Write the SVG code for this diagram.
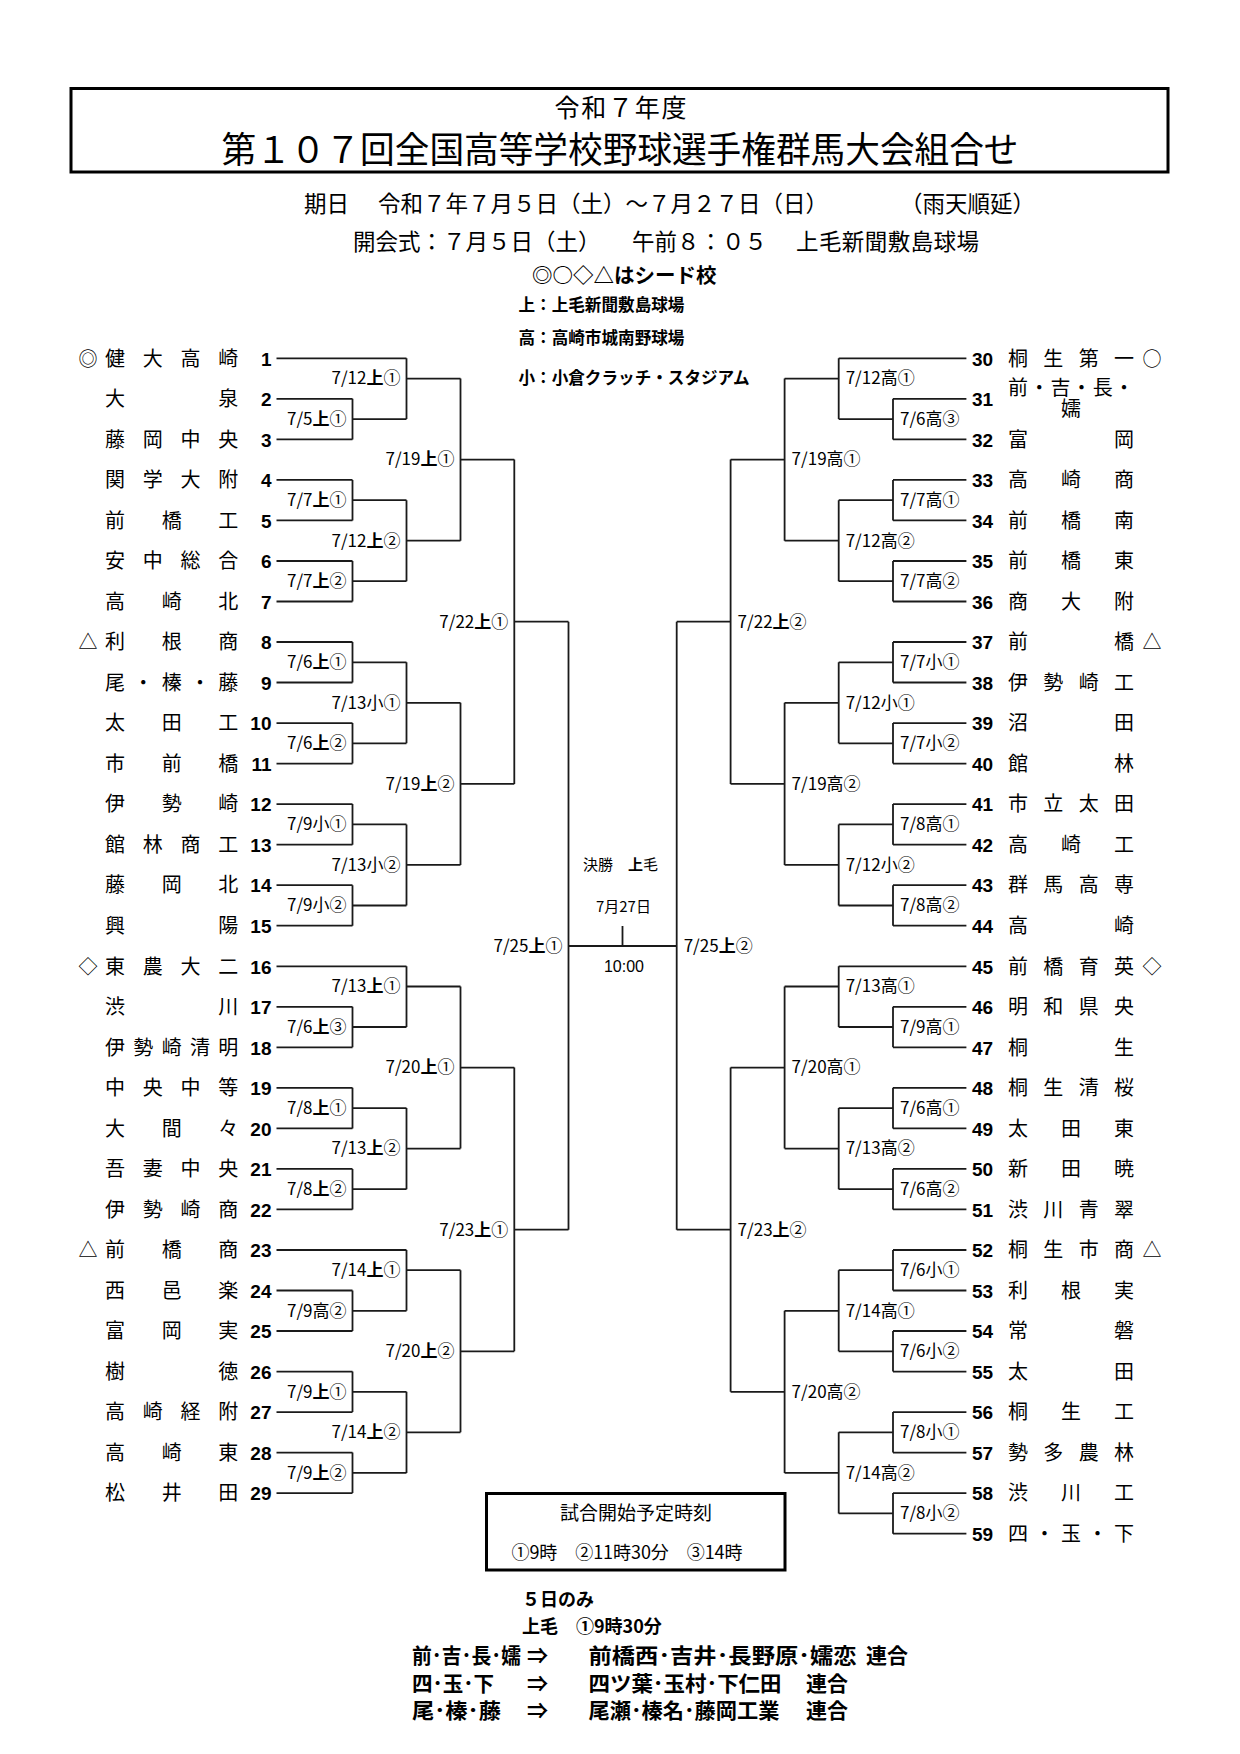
<svg xmlns="http://www.w3.org/2000/svg" width="1240" height="1754" viewBox="0 0 1240 1754">
<style>
text{font-family:"Noto Sans CJK JP","Noto Sans CJK SC",sans-serif;fill:#000}
.ln{fill:none;stroke:#1a1a1a;stroke-width:1.8}
.nm{font-size:20px;text-anchor:middle}
.nL{font-family:"Liberation Sans",Arial,sans-serif;font-weight:bold;font-size:19px;text-anchor:end}
.nR{font-family:"Liberation Sans",Arial,sans-serif;font-weight:bold;font-size:19px}
.sd{font-size:19px;text-anchor:middle}
.lb{font-size:17px}
.lbL{font-size:17px;text-anchor:end}
.b{font-weight:bold}
.hd{font-size:22.5px}
.bd{font-weight:bold}
</style>
<rect width="1240" height="1754" fill="#fff"/>
<g id="header">
<rect x="71" y="88.5" width="1097" height="83.5" fill="none" stroke="#000" stroke-width="3"/>
<text x="620.5" y="117" font-size="25" text-anchor="middle" textLength="132" lengthAdjust="spacing">令和７年度</text>
<text x="620" y="163" font-size="36" text-anchor="middle" textLength="797" lengthAdjust="spacingAndGlyphs">第１０７回全国高等学校野球選手権群馬大会組合せ</text>
<text class="hd" x="304" y="212">期日</text>
<text class="hd" x="378" y="212" textLength="450" lengthAdjust="spacing">令和７年７月５日（土）～７月２７日（日）</text>
<text class="hd" x="900" y="212">（雨天順延）</text>
<text class="hd" x="353" y="249.5">開会式：７月５日（土）</text>
<text class="hd" x="632" y="249.5">午前８：０５</text>
<text class="hd" x="796" y="249.5" textLength="183" lengthAdjust="spacing">上毛新聞敷島球場</text>
<text class="bd" x="532" y="283" font-size="20.5">◎○◇△はシード校</text>
<text class="bd" x="518.5" y="311" font-size="16.6">上：上毛新聞敷島球場</text>
<text class="bd" x="518.5" y="344.3" font-size="16.6">高：高崎市城南野球場</text>
<text class="bd" x="518.5" y="384.3" font-size="16.6">小：小倉クラッチ・スタジアム</text>
</g>
<g id="connectors" class="ln">
<path d="M276.5 358.3H406.5M276.5 398.8H352.5M276.5 439.4H352.5M276.5 479.9H352.5M276.5 520.4H352.5M276.5 561H352.5M276.5 601.5H352.5M276.5 642H352.5M276.5 682.5H352.5M276.5 723.1H352.5M276.5 763.6H352.5M276.5 804.1H352.5M276.5 844.7H352.5M276.5 885.2H352.5M276.5 925.7H352.5M276.5 966.3H406.5M276.5 1006.8H352.5M276.5 1047.3H352.5M276.5 1087.8H352.5M276.5 1128.4H352.5M276.5 1168.9H352.5M276.5 1209.4H352.5M276.5 1250H406.5M276.5 1290.5H352.5M276.5 1331H352.5M276.5 1371.6H352.5M276.5 1412.1H352.5M276.5 1452.6H352.5M276.5 1493.1H352.5"/>
<path d="M966.4 358.3H838.7M966.4 398.8H893M966.4 439.4H893M966.4 479.9H893M966.4 520.4H893M966.4 561H893M966.4 601.5H893M966.4 642H893M966.4 682.5H893M966.4 723.1H893M966.4 763.6H893M966.4 804.1H893M966.4 844.7H893M966.4 885.2H893M966.4 925.7H893M966.4 966.3H838.7M966.4 1006.8H893M966.4 1047.3H893M966.4 1087.8H893M966.4 1128.4H893M966.4 1168.9H893M966.4 1209.4H893M966.4 1250H893M966.4 1290.5H893M966.4 1331H893M966.4 1371.6H893M966.4 1412.1H893M966.4 1452.6H893M966.4 1493.1H893M966.4 1533.7H893"/>
<path d="M352.5 398.8V439.4M352.5 419.1H406.5M352.5 479.9V520.4M352.5 500.2H406.5M352.5 561V601.5M352.5 581.2H406.5M352.5 642V682.5M352.5 662.3H406.5M352.5 723.1V763.6M352.5 743.3H406.5M352.5 804.1V844.7M352.5 824.4H406.5M352.5 885.2V925.7M352.5 905.5H406.5M352.5 1006.8V1047.3M352.5 1027H406.5M352.5 1087.8V1128.4M352.5 1108.1H406.5M352.5 1168.9V1209.4M352.5 1189.2H406.5M352.5 1290.5V1331M352.5 1310.8H406.5M352.5 1371.6V1412.1M352.5 1391.8H406.5M352.5 1452.6V1493.1M352.5 1472.9H406.5"/>
<path d="M406.5 358.3V419.1M406.5 378.6H460.5M406.5 500.2V581.2M406.5 540.7H460.5M406.5 662.3V743.3M406.5 702.8H460.5M406.5 824.4V905.5M406.5 864.9H460.5M406.5 966.3V1027M406.5 986.5H460.5M406.5 1108.1V1189.2M406.5 1148.6H460.5M406.5 1250V1310.8M406.5 1270.2H460.5M406.5 1391.8V1472.9M406.5 1432.3H460.5"/>
<path d="M460.5 378.6V540.7M460.5 459.6H514.3M460.5 702.8V864.9M460.5 783.9H514.3M460.5 986.5V1148.6M460.5 1067.6H514.3M460.5 1270.2V1432.3M460.5 1351.3H514.3"/>
<path d="M514.3 459.6V783.9M514.3 621.7H568.5M514.3 1067.6V1351.3M514.3 1229.7H568.5"/>
<path d="M568.5 621.7V1229.7M568.5 946H676.7M622.5 926V946"/>
<path d="M893 398.8V439.4M893 419.1H838.7M893 479.9V520.4M893 500.2H838.7M893 561V601.5M893 581.2H838.7M893 642V682.5M893 662.3H838.7M893 723.1V763.6M893 743.3H838.7M893 804.1V844.7M893 824.4H838.7M893 885.2V925.7M893 905.5H838.7M893 1006.8V1047.3M893 1027H838.7M893 1087.8V1128.4M893 1108.1H838.7M893 1168.9V1209.4M893 1189.2H838.7M893 1250V1290.5M893 1270.2H838.7M893 1331V1371.6M893 1351.3H838.7M893 1412.1V1452.6M893 1432.3H838.7M893 1493.1V1533.7M893 1513.4H838.7"/>
<path d="M838.7 358.3V419.1M838.7 378.6H784.6M838.7 500.2V581.2M838.7 540.7H784.6M838.7 662.3V743.3M838.7 702.8H784.6M838.7 824.4V905.5M838.7 864.9H784.6M838.7 966.3V1027M838.7 986.5H784.6M838.7 1108.1V1189.2M838.7 1148.6H784.6M838.7 1270.2V1351.3M838.7 1310.8H784.6M838.7 1432.3V1513.4M838.7 1472.9H784.6"/>
<path d="M784.6 378.6V540.7M784.6 459.6H730.6M784.6 702.8V864.9M784.6 783.9H730.6M784.6 986.5V1148.6M784.6 1067.6H730.6M784.6 1310.8V1472.9M784.6 1391.8H730.6"/>
<path d="M730.6 459.6V783.9M730.6 621.7H676.7M730.6 1067.6V1391.8M730.6 1229.7H676.7"/>
<path d="M676.7 621.7V1229.7"/>
</g>
<g id="match-labels">
<text class="lbL" x="346.5" y="425">7/5<tspan class="b">上</tspan>①</text>
<text class="lbL" x="346.5" y="506">7/7<tspan class="b">上</tspan>①</text>
<text class="lbL" x="346.5" y="587">7/7<tspan class="b">上</tspan>②</text>
<text class="lbL" x="346.5" y="668.1">7/6<tspan class="b">上</tspan>①</text>
<text class="lbL" x="346.5" y="749.1">7/6<tspan class="b">上</tspan>②</text>
<text class="lbL" x="346.5" y="830.2">7/9小①</text>
<text class="lbL" x="346.5" y="911.3">7/9小②</text>
<text class="lbL" x="346.5" y="1032.8">7/6<tspan class="b">上</tspan>③</text>
<text class="lbL" x="346.5" y="1113.9">7/8<tspan class="b">上</tspan>①</text>
<text class="lbL" x="346.5" y="1195">7/8<tspan class="b">上</tspan>②</text>
<text class="lbL" x="346.5" y="1316.6">7/9高②</text>
<text class="lbL" x="346.5" y="1397.6">7/9<tspan class="b">上</tspan>①</text>
<text class="lbL" x="346.5" y="1478.7">7/9<tspan class="b">上</tspan>②</text>
<text class="lbL" x="400.5" y="384.4">7/12<tspan class="b">上</tspan>①</text>
<text class="lbL" x="400.5" y="546.5">7/12<tspan class="b">上</tspan>②</text>
<text class="lbL" x="400.5" y="708.6">7/13小①</text>
<text class="lbL" x="400.5" y="870.7">7/13小②</text>
<text class="lbL" x="400.5" y="992.3">7/13<tspan class="b">上</tspan>①</text>
<text class="lbL" x="400.5" y="1154.4">7/13<tspan class="b">上</tspan>②</text>
<text class="lbL" x="400.5" y="1276">7/14<tspan class="b">上</tspan>①</text>
<text class="lbL" x="400.5" y="1438.1">7/14<tspan class="b">上</tspan>②</text>
<text class="lbL" x="454.5" y="465.4">7/19<tspan class="b">上</tspan>①</text>
<text class="lbL" x="454.5" y="789.7">7/19<tspan class="b">上</tspan>②</text>
<text class="lbL" x="454.5" y="1073.4">7/20<tspan class="b">上</tspan>①</text>
<text class="lbL" x="454.5" y="1357.1">7/20<tspan class="b">上</tspan>②</text>
<text class="lbL" x="508.3" y="627.5">7/22<tspan class="b">上</tspan>①</text>
<text class="lbL" x="508.3" y="1235.5">7/23<tspan class="b">上</tspan>①</text>
<text class="lbL" x="562.5" y="951.8">7/25<tspan class="b">上</tspan>①</text>
<text class="lb" x="900" y="425">7/6高③</text>
<text class="lb" x="900" y="506">7/7高①</text>
<text class="lb" x="900" y="587">7/7高②</text>
<text class="lb" x="900" y="668.1">7/7小①</text>
<text class="lb" x="900" y="749.1">7/7小②</text>
<text class="lb" x="900" y="830.2">7/8高①</text>
<text class="lb" x="900" y="911.3">7/8高②</text>
<text class="lb" x="900" y="1032.8">7/9高①</text>
<text class="lb" x="900" y="1113.9">7/6高①</text>
<text class="lb" x="900" y="1195">7/6高②</text>
<text class="lb" x="900" y="1276">7/6小①</text>
<text class="lb" x="900" y="1357.1">7/6小②</text>
<text class="lb" x="900" y="1438.1">7/8小①</text>
<text class="lb" x="900" y="1519.2">7/8小②</text>
<text class="lb" x="845.7" y="384.4">7/12高①</text>
<text class="lb" x="845.7" y="546.5">7/12高②</text>
<text class="lb" x="845.7" y="708.6">7/12小①</text>
<text class="lb" x="845.7" y="870.7">7/12小②</text>
<text class="lb" x="845.7" y="992.3">7/13高①</text>
<text class="lb" x="845.7" y="1154.4">7/13高②</text>
<text class="lb" x="845.7" y="1316.6">7/14高①</text>
<text class="lb" x="845.7" y="1478.7">7/14高②</text>
<text class="lb" x="791.6" y="465.4">7/19高①</text>
<text class="lb" x="791.6" y="789.7">7/19高②</text>
<text class="lb" x="791.6" y="1073.4">7/20高①</text>
<text class="lb" x="791.6" y="1397.6">7/20高②</text>
<text class="lb" x="737.6" y="627.5">7/22<tspan class="b">上</tspan>②</text>
<text class="lb" x="737.6" y="1235.5">7/23<tspan class="b">上</tspan>②</text>
<text class="lb" x="683.7" y="951.8">7/25<tspan class="b">上</tspan>②</text>
</g>
<g id="final">
<text x="583" y="869.5" font-size="15">決勝　<tspan class="b">上</tspan>毛</text>
<text x="623.4" y="912" font-size="15" text-anchor="middle">7月27日</text>
<text x="624" y="972" font-size="16" text-anchor="middle" style="font-family:'Liberation Sans',Arial,sans-serif">10:00</text>
</g>
<g id="teams-left">
<g id="t1"><text class="sd" x="88" y="365.5">◎</text><text class="nm" x="115 152.8 190.5 228.3" y="365.5">健大高崎</text><text class="nL" x="271.5" y="365.5">1</text></g>
<g id="t2"><text class="nm" x="115 228.3" y="406">大泉</text><text class="nL" x="271.5" y="406">2</text></g>
<g id="t3"><text class="nm" x="115 152.8 190.5 228.3" y="446.6">藤岡中央</text><text class="nL" x="271.5" y="446.6">3</text></g>
<g id="t4"><text class="nm" x="115 152.8 190.5 228.3" y="487.1">関学大附</text><text class="nL" x="271.5" y="487.1">4</text></g>
<g id="t5"><text class="nm" x="115 171.7 228.3" y="527.6">前橋工</text><text class="nL" x="271.5" y="527.6">5</text></g>
<g id="t6"><text class="nm" x="115 152.8 190.5 228.3" y="568.2">安中総合</text><text class="nL" x="271.5" y="568.2">6</text></g>
<g id="t7"><text class="nm" x="115 171.7 228.3" y="608.7">高崎北</text><text class="nL" x="271.5" y="608.7">7</text></g>
<g id="t8"><text class="sd" x="88" y="649.2">△</text><text class="nm" x="115 171.7 228.3" y="649.2">利根商</text><text class="nL" x="271.5" y="649.2">8</text></g>
<g id="t9"><text class="nm" x="115 143.3 171.7 200 228.3" y="689.7">尾・榛・藤</text><text class="nL" x="271.5" y="689.7">9</text></g>
<g id="t10"><text class="nm" x="115 171.7 228.3" y="730.3">太田工</text><text class="nL" x="271.5" y="730.3">10</text></g>
<g id="t11"><text class="nm" x="115 171.7 228.3" y="770.8">市前橋</text><text class="nL" x="271.5" y="770.8">11</text></g>
<g id="t12"><text class="nm" x="115 171.7 228.3" y="811.3">伊勢崎</text><text class="nL" x="271.5" y="811.3">12</text></g>
<g id="t13"><text class="nm" x="115 152.8 190.5 228.3" y="851.9">館林商工</text><text class="nL" x="271.5" y="851.9">13</text></g>
<g id="t14"><text class="nm" x="115 171.7 228.3" y="892.4">藤岡北</text><text class="nL" x="271.5" y="892.4">14</text></g>
<g id="t15"><text class="nm" x="115 228.3" y="932.9">興陽</text><text class="nL" x="271.5" y="932.9">15</text></g>
<g id="t16"><text class="sd" x="88" y="973.5">◇</text><text class="nm" x="115 152.8 190.5 228.3" y="973.5">東農大二</text><text class="nL" x="271.5" y="973.5">16</text></g>
<g id="t17"><text class="nm" x="115 228.3" y="1014">渋川</text><text class="nL" x="271.5" y="1014">17</text></g>
<g id="t18"><text class="nm" x="115 143.3 171.7 200 228.3" y="1054.5">伊勢崎清明</text><text class="nL" x="271.5" y="1054.5">18</text></g>
<g id="t19"><text class="nm" x="115 152.8 190.5 228.3" y="1095">中央中等</text><text class="nL" x="271.5" y="1095">19</text></g>
<g id="t20"><text class="nm" x="115 171.7 228.3" y="1135.6">大間々</text><text class="nL" x="271.5" y="1135.6">20</text></g>
<g id="t21"><text class="nm" x="115 152.8 190.5 228.3" y="1176.1">吾妻中央</text><text class="nL" x="271.5" y="1176.1">21</text></g>
<g id="t22"><text class="nm" x="115 152.8 190.5 228.3" y="1216.6">伊勢崎商</text><text class="nL" x="271.5" y="1216.6">22</text></g>
<g id="t23"><text class="sd" x="88" y="1257.2">△</text><text class="nm" x="115 171.7 228.3" y="1257.2">前橋商</text><text class="nL" x="271.5" y="1257.2">23</text></g>
<g id="t24"><text class="nm" x="115 171.7 228.3" y="1297.7">西邑楽</text><text class="nL" x="271.5" y="1297.7">24</text></g>
<g id="t25"><text class="nm" x="115 171.7 228.3" y="1338.2">富岡実</text><text class="nL" x="271.5" y="1338.2">25</text></g>
<g id="t26"><text class="nm" x="115 228.3" y="1378.8">樹徳</text><text class="nL" x="271.5" y="1378.8">26</text></g>
<g id="t27"><text class="nm" x="115 152.8 190.5 228.3" y="1419.3">高崎経附</text><text class="nL" x="271.5" y="1419.3">27</text></g>
<g id="t28"><text class="nm" x="115 171.7 228.3" y="1459.8">高崎東</text><text class="nL" x="271.5" y="1459.8">28</text></g>
<g id="t29"><text class="nm" x="115 171.7 228.3" y="1500.3">松井田</text><text class="nL" x="271.5" y="1500.3">29</text></g>
</g>
<g id="teams-right">
<g id="t30"><text class="nR" x="972" y="365.5">30</text><text class="nm" x="1018 1053.3 1088.7 1124" y="365.5">桐生第一</text><text class="sd" x="1152" y="365.5">○</text></g>
<g id="t31"><text class="nR" x="972" y="406">31</text><text class="nm" x="1018 1039.2 1060.4 1081.6 1102.8 1124" y="394.5" font-size="16">前・吉・長・</text><text class="nm" x="1071" y="415.5" font-size="16">嬬</text></g>
<g id="t32"><text class="nR" x="972" y="446.6">32</text><text class="nm" x="1018 1124" y="446.6">富岡</text></g>
<g id="t33"><text class="nR" x="972" y="487.1">33</text><text class="nm" x="1018 1071 1124" y="487.1">高崎商</text></g>
<g id="t34"><text class="nR" x="972" y="527.6">34</text><text class="nm" x="1018 1071 1124" y="527.6">前橋南</text></g>
<g id="t35"><text class="nR" x="972" y="568.2">35</text><text class="nm" x="1018 1071 1124" y="568.2">前橋東</text></g>
<g id="t36"><text class="nR" x="972" y="608.7">36</text><text class="nm" x="1018 1071 1124" y="608.7">商大附</text></g>
<g id="t37"><text class="nR" x="972" y="649.2">37</text><text class="nm" x="1018 1124" y="649.2">前橋</text><text class="sd" x="1152" y="649.2">△</text></g>
<g id="t38"><text class="nR" x="972" y="689.7">38</text><text class="nm" x="1018 1053.3 1088.7 1124" y="689.7">伊勢崎工</text></g>
<g id="t39"><text class="nR" x="972" y="730.3">39</text><text class="nm" x="1018 1124" y="730.3">沼田</text></g>
<g id="t40"><text class="nR" x="972" y="770.8">40</text><text class="nm" x="1018 1124" y="770.8">館林</text></g>
<g id="t41"><text class="nR" x="972" y="811.3">41</text><text class="nm" x="1018 1053.3 1088.7 1124" y="811.3">市立太田</text></g>
<g id="t42"><text class="nR" x="972" y="851.9">42</text><text class="nm" x="1018 1071 1124" y="851.9">高崎工</text></g>
<g id="t43"><text class="nR" x="972" y="892.4">43</text><text class="nm" x="1018 1053.3 1088.7 1124" y="892.4">群馬高専</text></g>
<g id="t44"><text class="nR" x="972" y="932.9">44</text><text class="nm" x="1018 1124" y="932.9">高崎</text></g>
<g id="t45"><text class="nR" x="972" y="973.5">45</text><text class="nm" x="1018 1053.3 1088.7 1124" y="973.5">前橋育英</text><text class="sd" x="1152" y="973.5">◇</text></g>
<g id="t46"><text class="nR" x="972" y="1014">46</text><text class="nm" x="1018 1053.3 1088.7 1124" y="1014">明和県央</text></g>
<g id="t47"><text class="nR" x="972" y="1054.5">47</text><text class="nm" x="1018 1124" y="1054.5">桐生</text></g>
<g id="t48"><text class="nR" x="972" y="1095">48</text><text class="nm" x="1018 1053.3 1088.7 1124" y="1095">桐生清桜</text></g>
<g id="t49"><text class="nR" x="972" y="1135.6">49</text><text class="nm" x="1018 1071 1124" y="1135.6">太田東</text></g>
<g id="t50"><text class="nR" x="972" y="1176.1">50</text><text class="nm" x="1018 1071 1124" y="1176.1">新田暁</text></g>
<g id="t51"><text class="nR" x="972" y="1216.6">51</text><text class="nm" x="1018 1053.3 1088.7 1124" y="1216.6">渋川青翠</text></g>
<g id="t52"><text class="nR" x="972" y="1257.2">52</text><text class="nm" x="1018 1053.3 1088.7 1124" y="1257.2">桐生市商</text><text class="sd" x="1152" y="1257.2">△</text></g>
<g id="t53"><text class="nR" x="972" y="1297.7">53</text><text class="nm" x="1018 1071 1124" y="1297.7">利根実</text></g>
<g id="t54"><text class="nR" x="972" y="1338.2">54</text><text class="nm" x="1018 1124" y="1338.2">常磐</text></g>
<g id="t55"><text class="nR" x="972" y="1378.8">55</text><text class="nm" x="1018 1124" y="1378.8">太田</text></g>
<g id="t56"><text class="nR" x="972" y="1419.3">56</text><text class="nm" x="1018 1071 1124" y="1419.3">桐生工</text></g>
<g id="t57"><text class="nR" x="972" y="1459.8">57</text><text class="nm" x="1018 1053.3 1088.7 1124" y="1459.8">勢多農林</text></g>
<g id="t58"><text class="nR" x="972" y="1500.3">58</text><text class="nm" x="1018 1071 1124" y="1500.3">渋川工</text></g>
<g id="t59"><text class="nR" x="972" y="1540.9">59</text><text class="nm" x="1018 1044.5 1071 1097.5 1124" y="1540.9">四・玉・下</text></g>
</g>
<g id="time-box">
<rect x="486.5" y="1493.5" width="298.5" height="76.5" fill="none" stroke="#000" stroke-width="3"/>
<text x="636" y="1520" font-size="19" text-anchor="middle">試合開始予定時刻</text>
<text x="627" y="1559" font-size="18" text-anchor="middle" textLength="231" lengthAdjust="spacing">①9時　②11時30分　③14時</text>
</g>
<g id="notes" class="bd">
<text x="522" y="1606" font-size="18">５日のみ</text>
<text x="522" y="1632.5" font-size="18">上毛　①9時30分</text>
<text x="412" y="1662.5" font-size="21" textLength="109" lengthAdjust="spacingAndGlyphs">前･吉･長･嬬</text>
<text x="527" y="1662.5" font-size="21">⇒</text>
<text x="588.5" y="1662.5" font-size="21" textLength="268" lengthAdjust="spacingAndGlyphs">前橋西･吉井･長野原･嬬恋</text>
<text x="866" y="1662.5" font-size="21">連合</text>
<text x="412" y="1691" font-size="21" textLength="82" lengthAdjust="spacingAndGlyphs">四･玉･下</text>
<text x="527" y="1691" font-size="21">⇒</text>
<text x="588.5" y="1691" font-size="21" textLength="193" lengthAdjust="spacingAndGlyphs">四ツ葉･玉村･下仁田</text>
<text x="806" y="1691" font-size="21">連合</text>
<text x="412" y="1717.5" font-size="21" textLength="89" lengthAdjust="spacingAndGlyphs">尾･榛･藤</text>
<text x="527" y="1717.5" font-size="21">⇒</text>
<text x="588.5" y="1717.5" font-size="21" textLength="191" lengthAdjust="spacingAndGlyphs">尾瀬･榛名･藤岡工業</text>
<text x="806" y="1717.5" font-size="21">連合</text>
</g>
</svg>
